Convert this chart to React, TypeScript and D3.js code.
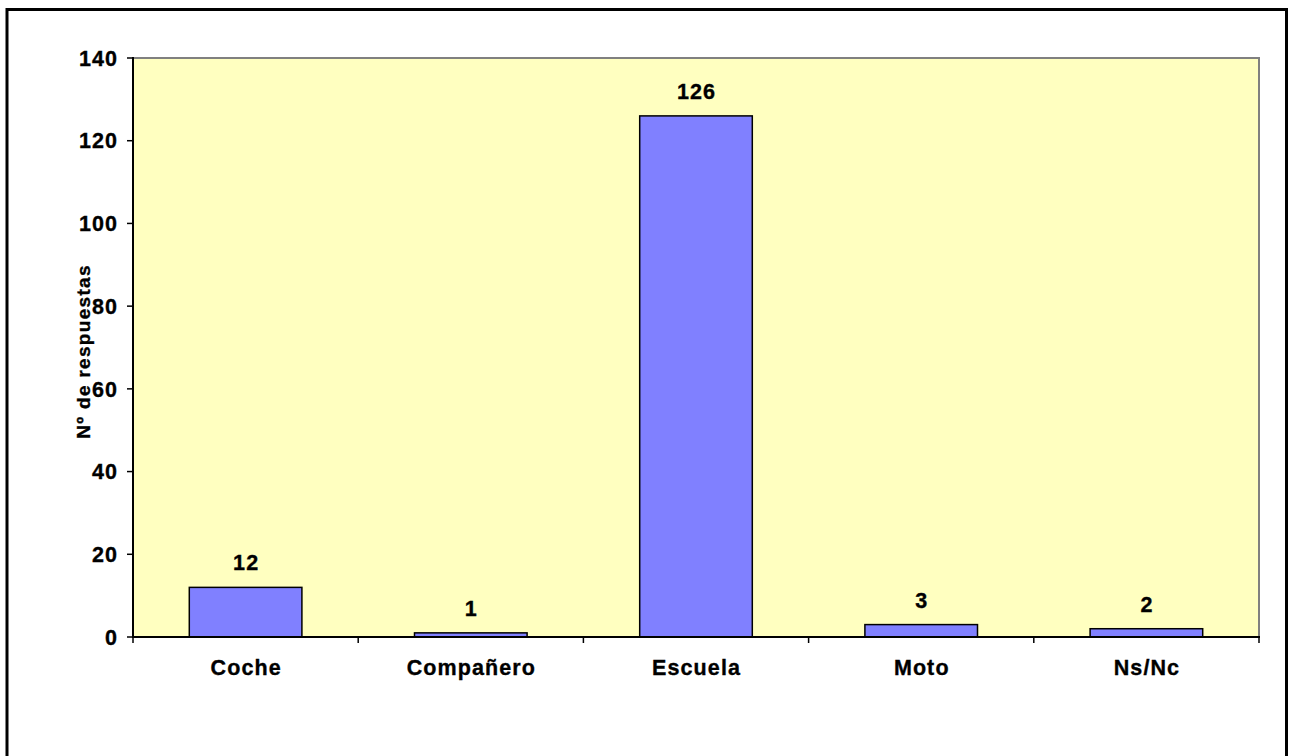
import React from "react";
import * as d3 from "d3";

const categories = ["Coche", "Compañero", "Escuela", "Moto", "Ns/Nc"];
const values = [12, 1, 126, 3, 2];
const yTicks = [0, 20, 40, 60, 80, 100, 120, 140];
const yTitle = "Nº de respuestas";

const W = 1289;
const H = 756;
const plot = { left: 133, right: 1259, top: 58, bottom: 637 };
const font = "'Liberation Sans', Arial, sans-serif";
const fs = 21.5;
const ls = 1.1;
const ts = { stroke: "#000", strokeWidth: 0.35 };

export default function App() {
  const x = d3
    .scaleBand<string>()
    .domain(categories)
    .range([plot.left, plot.right])
    .padding(0);
  const y = d3.scaleLinear().domain([0, 140]).range([plot.bottom, plot.top]);
  const bw = x.bandwidth() * 0.5;
  const boundaries = categories.map((c) => x(c)!).concat([plot.right]);

  return (
    <svg
      width={W}
      height={H}
      style={{ position: "absolute", left: 0, top: 0, background: "#fff" }}
      fontFamily={font}
      fontWeight="bold"
    >
      <rect x={7} y={9.5} width={1279.5} height={760} fill="#fff" stroke="#000" strokeWidth={3} />
      <rect
        x={plot.left}
        y={plot.top}
        width={plot.right - plot.left}
        height={plot.bottom - plot.top}
        fill="#FFFFC0"
        stroke="#808080"
        strokeWidth={2}
      />
      {categories.map((c, i) => {
        const cx = x(c)! + x.bandwidth() / 2;
        return (
          <g key={c}>
            <rect
              x={cx - bw / 2}
              y={y(values[i])}
              width={bw}
              height={y(0) - y(values[i])}
              fill="#8080FF"
              stroke="#000"
              strokeWidth={1.5}
            />
            <text
              x={cx + ls / 2}
              y={y(values[i]) - 17}
              textAnchor="middle"
              fontSize={fs}
              letterSpacing={ls}
              fill="#000"
              {...ts}
            >
              {values[i]}
            </text>
            <text x={cx + ls / 2} y={675} textAnchor="middle" fontSize={fs} letterSpacing={ls} fill="#000" {...ts}>
              {c}
            </text>
          </g>
        );
      })}
      {/* axes */}
      <line x1={plot.left} y1={plot.top - 1} x2={plot.left} y2={plot.bottom + 1} stroke="#000" strokeWidth={2} />
      <line x1={plot.left - 1} y1={plot.bottom} x2={plot.right + 1} y2={plot.bottom} stroke="#000" strokeWidth={2} />
      {yTicks.map((t) => (
        <g key={t}>
          <line x1={plot.left - 6} x2={plot.left} y1={y(t)} y2={y(t)} stroke="#000" strokeWidth={1.5} />
          <text
            x={117 + ls}
            y={y(t)}
            dy="0.36em"
            textAnchor="end"
            fontSize={fs}
            letterSpacing={ls}
            fill="#000"
            {...ts}
          >
            {t}
          </text>
        </g>
      ))}
      {boundaries.map((b, i) => (
        <line key={i} x1={b} x2={b} y1={plot.bottom} y2={plot.bottom + 6} stroke="#000" strokeWidth={1.5} />
      ))}
      <text
        transform={`translate(90,${(263 + 438) / 2 + 1}) rotate(-90)`}
        textAnchor="middle"
        fontSize={19}
        letterSpacing={1.3}
        fill="#000"
        {...ts}
      >
        {yTitle}
      </text>
    </svg>
  );
}
